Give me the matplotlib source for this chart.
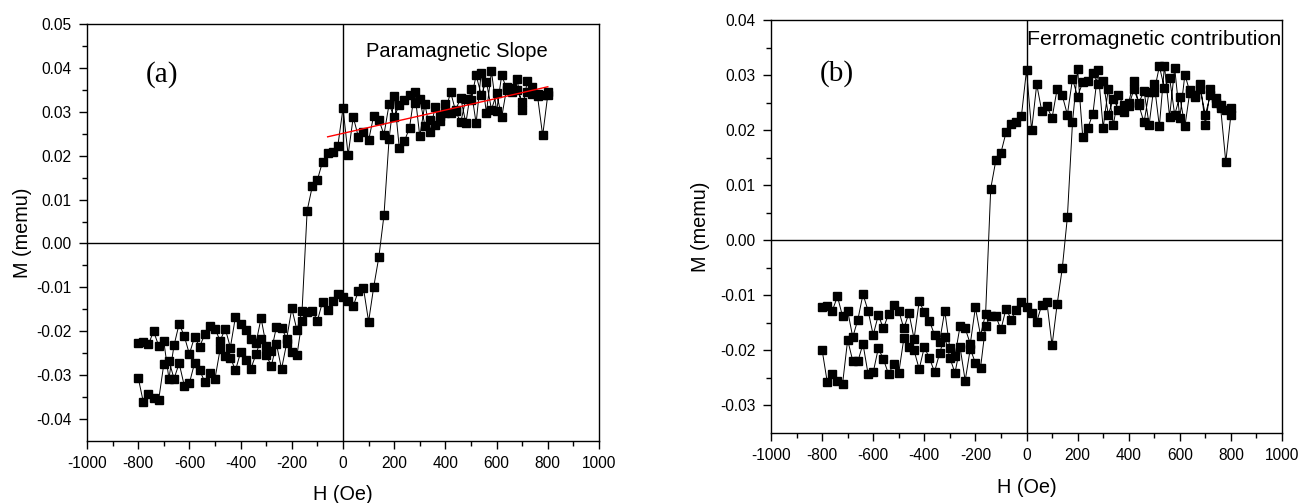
import numpy as np
import matplotlib
matplotlib.use("Agg")
import matplotlib.pyplot as plt

plt.rcParams['font.family'] = ['Liberation Sans', 'DejaVu Sans']
plt.rcParams['axes.unicode_minus'] = False

# applied field (Oe), sweep -800 -> 800
field = [-800, -780, -760, -740, -720, -700, -680, -660, -640, -620,
         -600, -580, -560, -540, -520, -500, -480, -460, -440, -420,
         -400, -380, -360, -340, -320, -300, -280, -260, -240, -220,
         -200, -180, -160, -140, -120, -100, -80, -60, -40, -20,
         0, 20, 40, 60, 80, 100, 120, 140, 160, 180,
         200, 220, 240, 260, 280, 300, 320, 340, 360, 380,
         400, 420, 440, 460, 480, 500, 520, 540, 560, 580,
         600, 620, 640, 660, 680, 700, 720, 740, 760, 780, 800]

# (a) raw loop, memu; up = increasing field, down = decreasing field (listed on same field order)
m_up_a = [-0.0306, -0.0361, -0.0344, -0.0353, -0.0356, -0.0275, -0.0267, -0.0308, -0.0273, -0.0324,
          -0.0318, -0.0273, -0.0289, -0.0315, -0.0294, -0.0308, -0.0241, -0.0256, -0.0260, -0.0289,
          -0.0248, -0.0265, -0.0286, -0.0252, -0.0218, -0.0254, -0.0279, -0.0229, -0.0286, -0.0227,
          -0.0248, -0.0255, -0.0176, -0.0155, -0.0153, -0.0176, -0.0133, -0.0151, -0.0130, -0.0116,
          -0.0122, -0.0130, -0.0143, -0.0108, -0.0102, -0.0178, -0.0099, -0.0031, 0.0064, 0.0238,
          0.0337, 0.0217, 0.0233, 0.0264, 0.0346, 0.0244, 0.0318, 0.0255, 0.0311, 0.0278,
          0.0297, 0.0346, 0.0301, 0.0276, 0.0330, 0.0327, 0.0383, 0.0339, 0.0369, 0.0305,
          0.0342, 0.0288, 0.0356, 0.0345, 0.0375, 0.0304, 0.0370, 0.0340, 0.0341, 0.0338, 0.0346]
m_down_a = [-0.0227, -0.0224, -0.0230, -0.0200, -0.0233, -0.0223, -0.0308, -0.0232, -0.0183, -0.0211,
            -0.0252, -0.0213, -0.0235, -0.0207, -0.0188, -0.0194, -0.0222, -0.0194, -0.0237, -0.0167,
            -0.0183, -0.0197, -0.0218, -0.0227, -0.0170, -0.0233, -0.0245, -0.0190, -0.0192, -0.0217,
            -0.0148, -0.0197, -0.0154, 0.0075, 0.0130, 0.0145, 0.0186, 0.0205, 0.0208, 0.0223,
            0.0308, 0.0202, 0.0288, 0.0243, 0.0255, 0.0235, 0.0291, 0.0282, 0.0248, 0.0317,
            0.0289, 0.0315, 0.0327, 0.0339, 0.0320, 0.0330, 0.0268, 0.0282, 0.0270, 0.0290,
            0.0318, 0.0297, 0.0305, 0.0331, 0.0274, 0.0352, 0.0274, 0.0389, 0.0298, 0.0392,
            0.0301, 0.0384, 0.0350, 0.0354, 0.0350, 0.0323, 0.0345, 0.0357, 0.0335, 0.0246, 0.0339]

# paramagnetic slope fit line
fit_h = [-60, 800]
fit_m = [0.0243, 0.0357]

# (b) ferromagnetic contribution
m_up_b = [-0.0199, -0.0257, -0.0242, -0.0255, -0.0261, -0.0181, -0.0219, -0.0220, -0.0188, -0.0243,
          -0.0240, -0.0196, -0.0216, -0.0243, -0.0225, -0.0241, -0.0178, -0.0194, -0.0200, -0.0234,
          -0.0194, -0.0214, -0.0239, -0.0205, -0.0175, -0.0213, -0.0241, -0.0194, -0.0255, -0.0197,
          -0.0223, -0.0232, -0.0155, -0.0137, -0.0138, -0.0162, -0.0124, -0.0144, -0.0126, -0.0113,
          -0.0122, -0.0132, -0.0148, -0.0117, -0.0113, -0.0191, -0.0116, -0.0051, 0.0042, 0.0214,
          0.0311, 0.0188, 0.0204, 0.0230, 0.0309, 0.0204, 0.0275, 0.0210, 0.0263, 0.0245,
          0.0250, 0.0290, 0.0245, 0.0214, 0.0270, 0.0270, 0.0316, 0.0276, 0.0295, 0.0228,
          0.0261, 0.0207, 0.0272, 0.0260, 0.0284, 0.0210, 0.0275, 0.0250, 0.0246, 0.0236, 0.0240]
m_down_b = [-0.0121, -0.0119, -0.0128, -0.0102, -0.0138, -0.0128, -0.0176, -0.0144, -0.0098, -0.0128,
            -0.0172, -0.0136, -0.0160, -0.0134, -0.0118, -0.0128, -0.0160, -0.0132, -0.0179, -0.0111,
            -0.0130, -0.0146, -0.0172, -0.0184, -0.0128, -0.0196, -0.0210, -0.0156, -0.0160, -0.0188,
            -0.0122, -0.0173, -0.0133, 0.0094, 0.0145, 0.0159, 0.0196, 0.0212, 0.0214, 0.0225,
            0.0309, 0.0200, 0.0283, 0.0234, 0.0243, 0.0222, 0.0275, 0.0263, 0.0228, 0.0293,
            0.0261, 0.0287, 0.0290, 0.0303, 0.0283, 0.0290, 0.0228, 0.0257, 0.0237, 0.0233,
            0.0243, 0.0274, 0.0250, 0.0271, 0.0210, 0.0284, 0.0207, 0.0317, 0.0224, 0.0313,
            0.0222, 0.0301, 0.0268, 0.0264, 0.0274, 0.0228, 0.0264, 0.0258, 0.0240, 0.0142, 0.0228]


def loop(ax, m_up, m_down, ylim, yticks):
    h = field + field[::-1]
    m = m_up + m_down[::-1]
    ax.plot(h, m, color='black', lw=0.7, marker='s', ms=5.6, zorder=3)
    ax.axhline(0, color='black', lw=1.0, zorder=1)
    ax.axvline(0, color='black', lw=1.0, zorder=1)
    ax.set_xlim(-1000, 1000)
    ax.set_ylim(*ylim)
    ax.set_xticks(np.arange(-1000, 1001, 200))
    ax.set_xticks(np.arange(-900, 1000, 200), minor=True)
    ax.set_yticks(yticks)
    ax.set_yticks(np.array(yticks[:-1]) + 0.005, minor=True)
    ax.yaxis.set_major_formatter(matplotlib.ticker.FormatStrFormatter('%.2f'))
    ax.tick_params(which='major', direction='out', length=6, width=1.0, labelsize=11.2, pad=5)
    ax.tick_params(which='minor', direction='out', length=3.6, width=1.0)
    ax.tick_params(top=False, right=False)
    for s in ax.spines.values():
        s.set_linewidth(1.0)
    ax.set_xlabel('H (Oe)', fontsize=14.3)
    ax.set_ylabel('M (memu)', fontsize=14.3)


fig = plt.figure(figsize=(13.04, 5.03), dpi=100)

ax_a = fig.add_axes([87 / 1304, 1 - 441 / 503, 512 / 1304, 417 / 503])
loop(ax_a, m_up_a, m_down_a, (-0.045, 0.05),
     [-0.04, -0.03, -0.02, -0.01, 0.0, 0.01, 0.02, 0.03, 0.04, 0.05])
ax_a.plot(fit_h, fit_m, color='red', lw=1.0, zorder=4)
ax_a.text(-707, 0.0386, '(a)', family='Liberation Serif', fontsize=21, ha='center', va='center')
ax_a.text(444, 0.0437, 'Paramagnetic Slope', fontsize=14.5, ha='center', va='center')
ax_a.yaxis.set_label_coords(-0.107, 0.5)
ax_a.xaxis.set_label_coords(0.5, -0.105)

ax_b = fig.add_axes([771 / 1304, 1 - 433 / 503, 511 / 1304, 413 / 503])
loop(ax_b, m_up_b, m_down_b, (-0.035, 0.04),
     [-0.03, -0.02, -0.01, 0.0, 0.01, 0.02, 0.03, 0.04])
ax_b.text(-743, 0.0303, '(b)', family='Liberation Serif', fontsize=21, ha='center', va='center')
ax_b.text(2, 0.0364, 'Ferromagnetic contribution', fontsize=15.4, ha='left', va='center')
ax_b.yaxis.set_label_coords(-0.119, 0.5)
ax_b.xaxis.set_label_coords(0.5, -0.109)

fig.savefig('out.png', dpi=100)
